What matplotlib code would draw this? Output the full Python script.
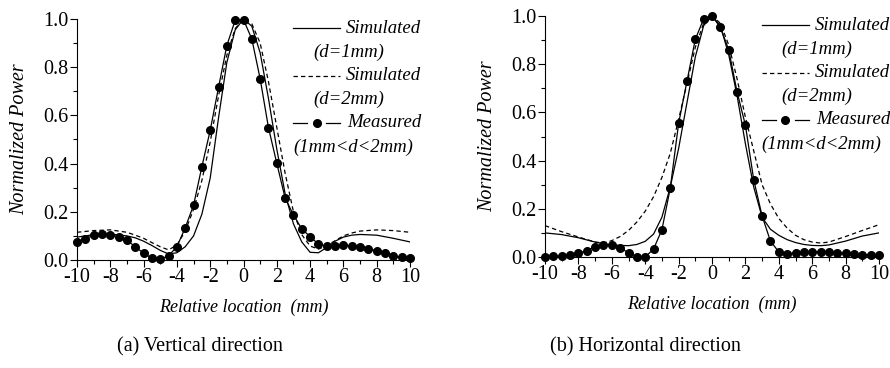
import numpy as np
import matplotlib.pyplot as plt
from matplotlib.ticker import MultipleLocator

plt.rcParams['font.family'] = ['Liberation Serif', 'DejaVu Serif']
plt.rcParams['axes.unicode_minus'] = False

# measured points, every 0.5 mm
x_meas = np.arange(-10, 10.01, 0.5)
v_meas = [0.073, 0.089, 0.102, 0.106, 0.105, 0.095, 0.082, 0.055, 0.028, 0.008,
          0.003, 0.018, 0.055, 0.134, 0.227, 0.387, 0.538, 0.716, 0.890, 0.995,
          0.997, 0.917, 0.752, 0.549, 0.401, 0.257, 0.187, 0.129, 0.097, 0.066,
          0.058, 0.059, 0.062, 0.059, 0.054, 0.046, 0.039, 0.029, 0.018, 0.011,
          0.010]
h_meas = [0.001, 0.003, 0.005, 0.008, 0.015, 0.026, 0.043, 0.051, 0.051, 0.039,
          0.017, 0.001, 0.000, 0.033, 0.113, 0.285, 0.554, 0.729, 0.903, 0.988,
          1.000, 0.953, 0.860, 0.685, 0.547, 0.320, 0.170, 0.066, 0.021, 0.014,
          0.017, 0.019, 0.021, 0.021, 0.019, 0.017, 0.015, 0.012, 0.010, 0.008,
          0.007]

# simulated curves
x_sim = [-10, -9, -8, -7, -6.5, -6, -5.5, -5, -4.5, -4, -3.5, -3, -2.5, -2, -1.5,
         -1, -0.5, 0, 0.5, 1, 1.5, 2, 2.5, 3, 3.5, 4, 4.5, 5, 5.5, 6, 6.5, 7,
         8, 9, 10]
v_sim1 = [0.095, 0.105, 0.108, 0.100, 0.092, 0.078, 0.060, 0.040, 0.025, 0.030,
          0.055, 0.100, 0.190, 0.340, 0.590, 0.820, 0.955, 1.000, 0.970, 0.860,
          0.670, 0.460, 0.275, 0.150, 0.075, 0.032, 0.030, 0.052, 0.078, 0.095,
          0.103, 0.106, 0.103, 0.090, 0.075]
v_sim2 = [0.115, 0.122, 0.125, 0.115, 0.103, 0.090, 0.072, 0.055, 0.042, 0.062,
          0.120, 0.210, 0.330, 0.490, 0.680, 0.850, 0.960, 1.000, 0.980, 0.900,
          0.740, 0.550, 0.360, 0.200, 0.105, 0.058, 0.045, 0.060, 0.080, 0.100,
          0.112, 0.120, 0.125, 0.122, 0.115]
h_sim1 = [0.100, 0.093, 0.080, 0.062, 0.055, 0.050, 0.048, 0.047, 0.052, 0.065,
          0.095, 0.165, 0.290, 0.450, 0.640, 0.830, 0.960, 1.000, 0.960, 0.840,
          0.670, 0.470, 0.290, 0.165, 0.115, 0.090, 0.072, 0.060, 0.052, 0.048,
          0.047, 0.050, 0.066, 0.087, 0.100]
h_sim2 = [0.130, 0.105, 0.083, 0.062, 0.058, 0.068, 0.085, 0.110, 0.145, 0.190,
          0.250, 0.330, 0.430, 0.570, 0.720, 0.870, 0.970, 1.000, 0.970, 0.880,
          0.740, 0.580, 0.440, 0.300, 0.220, 0.160, 0.120, 0.090, 0.072, 0.062,
          0.058, 0.062, 0.085, 0.110, 0.134]

fig = plt.figure(figsize=(8.9, 3.68), dpi=100)
W, H = 890, 368

def px_axes(l, r, t, b):
    return fig.add_axes([l / W, 1 - b / H, (r - l) / W, (b - t) / H])

ax1 = px_axes(77, 410, 19, 260)
ax2 = px_axes(545, 879, 16, 257)

panels = [(ax1, v_sim1, v_sim2, v_meas), (ax2, h_sim1, h_sim2, h_meas)]
for ax, s1, s2, m in panels:
    ax.plot(x_sim, s1, color='black', lw=0.9)
    ax.plot(x_sim, s2, color='black', lw=0.9, ls=(0, (3.5, 2.5)))
    ax.plot(x_meas, m, color='black', lw=0.9, marker='o', ms=5.5, clip_on=False)
    ax.set_xlim(-10, 10)
    ax.set_ylim(0, 1.0)
    ax.spines['top'].set_visible(False)
    ax.spines['right'].set_visible(False)
    ax.xaxis.set_major_locator(MultipleLocator(2))
    ax.xaxis.set_minor_locator(MultipleLocator(1))
    ax.yaxis.set_major_locator(MultipleLocator(0.2))
    ax.yaxis.set_minor_locator(MultipleLocator(0.1))
    ax.yaxis.set_major_formatter(plt.FormatStrFormatter('%.1f'))
    ax.tick_params(which='major', direction='out', length=5, width=0.8,
                   labelsize=14.5, pad=1)
    ax.tick_params(which='minor', direction='out', length=3, width=0.8)
    ax.set_ylabel('Normalized Power', fontstyle='italic', fontsize=14.5,
                  labelpad=10)
    ax.set_xlabel('Relative location  (mm)', fontstyle='italic', fontsize=13,
                  labelpad=8)

    # legend drawn by hand to keep the two-line labels
    tr = ax.transAxes
    ax.plot([0.649, 0.790], [0.962, 0.962], color='black', lw=0.9,
            transform=tr, clip_on=False)
    ax.plot([0.649, 0.790], [0.765, 0.765], color='black', lw=0.9,
            ls=(0, (3.5, 2.5)), transform=tr, clip_on=False)
    ax.plot([0.649, 0.692], [0.570, 0.570], color='black', lw=0.9,
            transform=tr, clip_on=False)
    ax.plot([0.748, 0.790], [0.570, 0.570], color='black', lw=0.9,
            transform=tr, clip_on=False)
    ax.plot([0.72], [0.570], color='black', marker='o', ms=5.5,
            transform=tr, clip_on=False)
    kw = dict(transform=tr, fontsize=13.5, fontstyle='italic', va='center')
    ax.text(1.033, 0.962, 'Simulated', ha='right', **kw)
    ax.text(0.709, 0.862, '(d=1mm)', ha='left', **kw)
    ax.text(1.033, 0.765, 'Simulated', ha='right', **kw)
    ax.text(0.709, 0.667, '(d=2mm)', ha='left', **kw)
    ax.text(1.033, 0.570, 'Measured', ha='right', **kw)
    ax.text(0.649, 0.467, '(1mm<d<2mm)', ha='left', **kw)

fig.text(200 / W, 1 - 347 / H, '(a) Vertical direction', ha='center',
         va='center', fontsize=14.5)
fig.text(645 / W, 1 - 347 / H, '(b) Horizontal direction', ha='center',
         va='center', fontsize=14.5)

fig.savefig('out.png', dpi=100)
